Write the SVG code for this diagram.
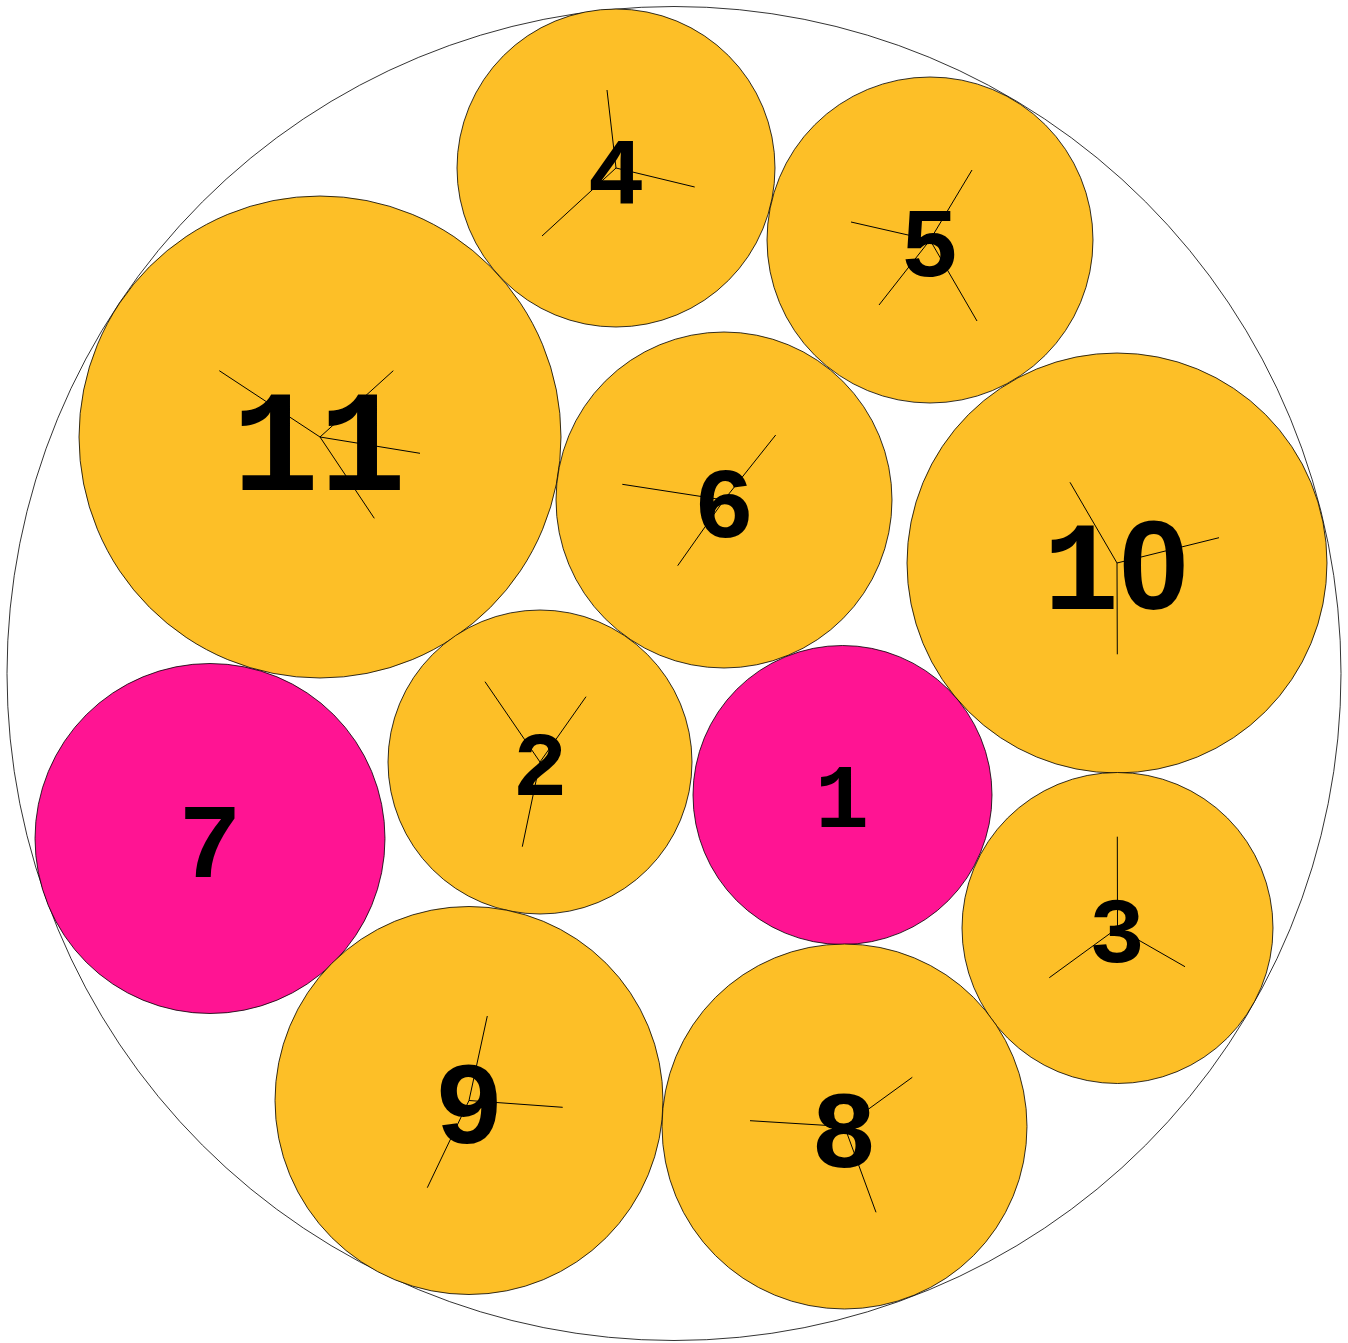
<svg xmlns="http://www.w3.org/2000/svg" width="1348" height="1343" viewBox="0 0 1348 1343">
<style>
.o{fill:#FDBF27;stroke:#000;stroke-width:0.8}
.p{fill:#FF1493;stroke:#000;stroke-width:0.8}
.s{stroke:#000;stroke-width:1;fill:none}
text{font-family:"Liberation Mono","DejaVu Sans Mono",monospace;font-weight:bold;text-anchor:middle;fill:#000}
.z{font-family:"Liberation Sans",Arial,sans-serif}
</style>
<rect width="1348" height="1343" fill="#fff"/>
<circle cx="674" cy="673.5" r="667" fill="none" stroke="#000" stroke-width="0.8"/>
<g id="n4"><circle class="o" cx="616" cy="168" r="159"/><path class="s" d="M616 168L607 90M616 168L694.7 187M616 168L542 236"/><text x="616" y="203" font-size="95">4</text></g>
<g id="n5"><circle class="o" cx="930" cy="240" r="163"/><path class="s" d="M930 240L972 170M930 240L851 222M930 240L879 305M930 240L977 321"/><text x="930" y="276" font-size="98">5</text></g>
<g id="n11"><circle class="o" cx="320" cy="437" r="241"/><path class="s" d="M320 437L219.3 370.7M320 437L393.3 370.7M320 437L420 453.3M320 437L374.3 518.3"/><text x="319" y="490" font-size="145">11</text></g>
<g id="n6"><circle class="o" cx="724" cy="500" r="168"/><path class="s" d="M724 500L622.3 484.3M724 500L775.7 435M724 500L677.7 565.7"/><text x="724" y="537" font-size="101">6</text></g>
<g id="n10"><circle class="o" cx="1117" cy="563" r="210"/><path class="s" d="M1117 563L1070 482.3M1117 563L1219 537.7M1117 563L1117.3 654.3"/><text x="1116" y="609" font-size="126">1<tspan class="z">0</tspan></text></g>
<g id="n7"><circle class="p" cx="210" cy="838.5" r="175"/><text x="210" y="877" font-size="105">7</text></g>
<g id="n2"><circle class="o" cx="540" cy="762" r="152"/><path class="s" d="M540 762L485 681.7M540 762L586 696.7M540 762L522.3 846.7"/><text x="540" y="795" font-size="91">2</text></g>
<g id="n1"><circle class="p" cx="842.5" cy="795" r="149.5"/><text x="842" y="827" font-size="90">1</text></g>
<g id="n3"><circle class="o" cx="1117.5" cy="928" r="155.5"/><path class="s" d="M1117.5 928L1117.3 836.7M1117.5 928L1049.3 977.7M1117.5 928L1185 966.7"/><text x="1117" y="962" font-size="93">3</text></g>
<g id="n9"><circle class="o" cx="469" cy="1100.5" r="194"/><path class="s" d="M469 1100.5L487.3 1016M469 1100.5L427.3 1187.7M469 1100.5L562.7 1107.3"/><text x="469" y="1143" font-size="116">9</text></g>
<g id="n8"><circle class="o" cx="844.5" cy="1126.5" r="182.5"/><path class="s" d="M844.5 1126.5L750 1120.7M844.5 1126.5L912.3 1077.3M844.5 1126.5L876 1212.3"/><text x="844" y="1167" font-size="110">8</text></g>
</svg>
